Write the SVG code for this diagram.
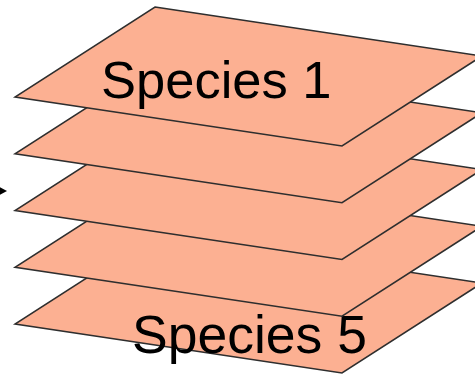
<svg xmlns="http://www.w3.org/2000/svg" width="475" height="374" viewBox="0 0 475 374">
<style>
.plane{fill:#fcb092;stroke:#2e2e2e;stroke-width:1.5;stroke-linejoin:miter}
.lbl{font-family:"Liberation Sans",Arial,sans-serif;font-size:52px;fill:#000000}
</style>
<defs>
<polygon id="pl" class="plane" points="155,7 482,56 342,146 15,97"/>
</defs>
<rect width="475" height="374" fill="#ffffff"/>
<g id="connectors">
<polygon points="-4,185 7,191 -4,197" fill="#000000"/>
</g>
<g id="species5">
<use href="#pl" transform="translate(0,227)"/>
<text class="lbl" x="132" y="353" style="font-size:53.5px">Species 5</text>
</g>
<g id="species4"><use href="#pl" transform="translate(0,170.25)"/></g>
<g id="species3"><use href="#pl" transform="translate(0,113.5)"/></g>
<g id="species2"><use href="#pl" transform="translate(0,56.75)"/></g>
<g id="species1">
<use href="#pl"/>
<text class="lbl" x="101" y="98" style="font-size:52.5px">Species 1</text>
</g>
</svg>
